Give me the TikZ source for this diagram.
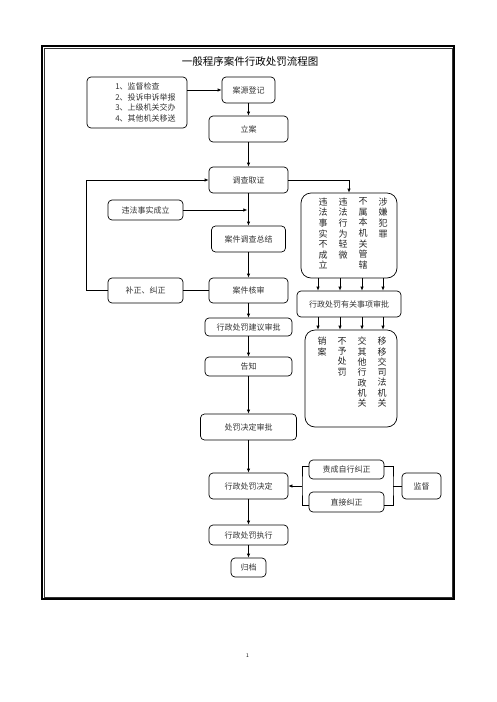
\documentclass[tikz,border=0pt]{standalone}
\usepackage{fontspec}
\setmainfont{Noto Sans CJK SC}
\usetikzlibrary{arrows.meta}
\tikzset{
  bx/.style={draw, line width=0.7pt, rounded corners=4pt, inner sep=0pt, font=\fontsize{8}{9}\selectfont, text=black!80},
  bigbx/.style={draw, line width=0.7pt, rounded corners=10pt, inner sep=0pt},
  vtext/.style={font=\fontsize{9}{10.6}\selectfont, align=center, inner sep=0pt, anchor=north, text=black!85},
  arr/.style={line width=0.7pt, -{Latex[length=4pt,width=3.5pt]}},
  ln/.style={line width=0.7pt}
}
\begin{document}
\begin{tikzpicture}[x=1pt,y=-1pt]
\useasboundingbox (0,0) rectangle (496,702);
% frame
\draw[line width=1.6pt] (42,45.8) rectangle (454.2,599.2);
\draw[line width=0.6pt, black!80] (44.3,48) rectangle (452,597);
% title
\node[font=\fontsize{10.5}{12}\selectfont] (title) at (250,61) {一般程序案件行政处罚流程图};
% nodes
\node[bx, minimum width=100, minimum height=51] (src) at (137,102.5) {};
\node[align=left, inner sep=0pt, font=\fontsize{8}{10.4}\selectfont, text=black!80] (srct) at (145.5,102.5) {1、监督检查\\2、投诉申诉举报\\3、上级机关交办\\4、其他机关移送};
\node[bx, minimum width=53, minimum height=26] (reg) at (248.5,90) {案源登记};
\node[bx, minimum width=79, minimum height=26] (lian) at (248.5,129) {立案};
\node[bx, minimum width=79, minimum height=26] (dc) at (248.5,180) {调查取证};
\node[bx, minimum width=75, minimum height=20] (wf) at (145.5,210) {违法事实成立};
\node[bx, minimum width=74, minimum height=26] (zj) at (248.5,239) {案件调查总结};
\node[bx, minimum width=79, minimum height=25] (hs) at (248.5,290.5) {案件核审};
\node[bx, minimum width=75, minimum height=25] (bz) at (145.5,290.5) {补正、纠正};
\node[bx, minimum width=87, minimum height=18] (jy) at (248.5,327) {行政处罚建议审批};
\node[bx, minimum width=87, minimum height=19] (gz) at (248.5,366.5) {告知};
\node[bx, minimum width=96, minimum height=26] (pj) at (248.5,427) {处罚决定审批};
\node[bx, minimum width=79, minimum height=26] (xzjd) at (248.5,486) {行政处罚决定};
\node[bx, minimum width=75, minimum height=19] (zc) at (346.5,469.5) {责成自行纠正};
\node[bx, minimum width=75, minimum height=20] (zjjz) at (346.5,502) {直接纠正};
\node[bx, minimum width=39, minimum height=26] (jd) at (421.5,486) {监督};
\node[bx, minimum width=79, minimum height=20] (zx) at (248.5,535) {行政处罚执行};
\node[bx, minimum width=35, minimum height=19] (gd) at (248.5,567.5) {归档};
% big upper box
\node[bigbx, minimum width=96, minimum height=85] (big1) at (349,235.5) {};
\node[vtext] (c1) at (323,197.5) {违\\法\\事\\实\\不\\成\\立};
\node[vtext] (c2) at (343,197.5) {违\\法\\行\\为\\轻\\微};
\node[vtext] (c3) at (363,197.5) {不\\属\\本\\机\\关\\管\\辖};
\node[vtext] (c4) at (383,197.5) {涉\\嫌\\犯\\罪};
\node[bx, minimum width=104, minimum height=26] (sp) at (349,304) {行政处罚有关事项审批};
% big lower box
\node[bigbx, minimum width=92, minimum height=97] (big2) at (351,378.5) {};
\node[vtext, font=\fontsize{9}{10.3}\selectfont] (d1) at (322,337) {销\\案};
\node[vtext, font=\fontsize{9}{10.3}\selectfont] (d2) at (342,337) {不\\予\\处\\罚};
\node[vtext, font=\fontsize{9}{10.3}\selectfont] (d3) at (362,337) {交\\其\\他\\行\\政\\机\\关};
\node[vtext, font=\fontsize{9}{10.3}\selectfont] (d4) at (382,337) {移\\移\\交\\司\\法\\机\\关};
% connectors
\draw[arr] (src.east |- reg.west) -- (reg.west);
\draw[arr] (reg.south) -- (lian.north);
\draw[arr] (lian.south) -- (dc.north);
\draw[arr] (dc.south) -- (zj.north);
\coordinate (wfend) at (wf.east -| dc.south);
\draw[arr] (wf.east) -- ([xshift=-1.2pt]wfend);
\draw[arr] (zj.south) -- (hs.north);
\draw[ln] (hs.west) -- (bz.east);
\draw[arr] (bz.west) -- ++(-21,0) |- (dc.west);
\draw[arr] (dc.east) -| (big1.north);
\foreach \x in {318,340,362,383} {
  \draw[arr] (big1.south -| \x,0) -- (sp.north -| \x,0);
  \draw[arr] (sp.south -| \x,0) -- (big2.north -| \x,0);
}
\draw[arr] (hs.south) -- (jy.north);
\draw[arr] (jy.south) -- (gz.north);
\draw[arr] (gz.south) -- (pj.north);
\draw[arr] (pj.south) -- (xzjd.north);
\draw[arr] (xzjd.south) -- (zx.north);
\draw[arr] (zx.south) -- (gd.north);
% supervision brackets
\coordinate (lb) at (302,486);
\coordinate (rb) at (393,486);
\draw[ln] ([yshift=3.5pt]zc.west) -| (lb) |- ([yshift=-3pt]zjjz.west);
\draw[arr] (lb) -- (xzjd.east);
\draw[ln] ([yshift=3.5pt]zc.east) -| (rb) |- ([yshift=-3pt]zjjz.east);
\draw[ln] (rb) -- (jd.west);
% page number
\node[font=\fontsize{5}{6}\selectfont] (pg) at (247.5,656) {1};
\end{tikzpicture}
\end{document}
